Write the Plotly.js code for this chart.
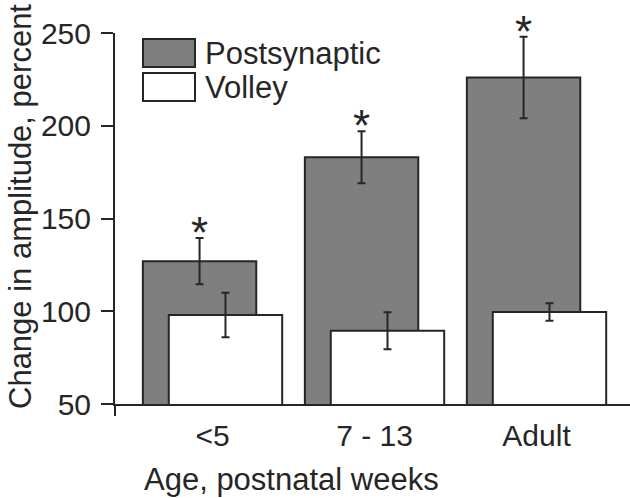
<!DOCTYPE html>
<html>
<head>
<meta charset="utf-8">
<script src="https://cdn.plot.ly/plotly-3.0.1.min.js"></script>
<style>
  html, body { margin: 0; padding: 0; background: #fff; }
  #chart { width: 630px; height: 498px; }
</style>
</head>
<body>
<div id="chart"></div>
<script>
// Age groups and the amplitude change (percent) for each recording type
const ageGroups = ['<5', '7 - 13', 'Adult'];
const seriesNames = ['Postsynaptic', 'Volley'];
const postsynaptic = [127, 183, 226];
const postsynapticErr = [12.5, 14, 22];
const volley = [98, 89.5, 99.6];
const volleyErr = [12, 10, 4.7];
const significant = [true, true, true];
const yTicks = [50, 100, 150, 200, 250];
const xTitle = 'Age, postnatal weeks';
const yTitle = 'Change in amplitude, percent';

const ink = '#262626';
const font = 'Liberation Sans, Arial, Helvetica, sans-serif';
const xIdx = ageGroups.map((_, i) => i);

// bar placement within each category (data units)
const barWidth = 0.70;
const postOffset = -0.43;
const volleyOffset = -0.27;

const errStyle = (arr) => ({
  type: 'data', array: arr, visible: true,
  color: ink, thickness: 2, width: 4
});

const traces = [
  {
    type: 'bar', name: seriesNames[0],
    x: xIdx, y: postsynaptic,
    width: barWidth, offset: postOffset,
    marker: { color: '#7f7f7f', line: { color: ink, width: 2 } },
    error_y: errStyle(postsynapticErr),
    showlegend: false, hoverinfo: 'skip'
  },
  {
    type: 'bar', name: seriesNames[1],
    x: xIdx, y: volley,
    width: barWidth, offset: volleyOffset,
    marker: { color: '#ffffff', line: { color: ink, width: 2 } },
    error_y: errStyle(volleyErr),
    showlegend: false, hoverinfo: 'skip'
  }
];

// significance stars above the postsynaptic error bars
const annotations = [];
xIdx.forEach(i => {
  if (!significant[i]) return;
  annotations.push({
    x: i + postOffset + barWidth / 2,
    y: postsynaptic[i] + postsynapticErr[i],
    xref: 'x', yref: 'y',
    text: '*', showarrow: false,
    xanchor: 'center', yanchor: 'bottom', yshift: -21,
    font: { family: font, size: 44, color: ink }
  });
});

// plot-area geometry in pixels, used to place paper-referenced items
const plotW = 515, plotH = 371, plotL = 115, plotT = 33;
const px = v => (v - plotL) / plotW;
const py = v => (plotT + plotH - v) / plotH;

// legend drawn as swatches with labels
const swatchFill = ['#7f7f7f', '#ffffff'];
const swatchTop = [39, 73];
const shapes = [];
seriesNames.forEach((name, k) => {
  shapes.push({
    type: 'rect', xref: 'paper', yref: 'paper',
    x0: px(143), x1: px(195), y0: py(swatchTop[k] + 28), y1: py(swatchTop[k]),
    fillcolor: swatchFill[k], line: { color: ink, width: 2 }
  });
  annotations.push({
    xref: 'paper', yref: 'paper',
    x: px(203), y: py(swatchTop[k] + 14),
    xanchor: 'left', yanchor: 'middle',
    text: name, showarrow: false,
    font: { family: font, size: 31, color: ink }
  });
});

// axis titles
annotations.push({
  xref: 'paper', yref: 'paper', x: px(291), y: py(479),
  xanchor: 'center', yanchor: 'middle', showarrow: false,
  text: xTitle, font: { family: font, size: 31, color: ink }
});
annotations.push({
  xref: 'paper', yref: 'paper', x: px(21), y: py(207),
  xanchor: 'center', yanchor: 'middle', showarrow: false, textangle: -90,
  text: yTitle, font: { family: font, size: 31, color: ink }
});

// y axis line continues a little below the x axis
shapes.push({
  type: 'line', xref: 'paper', yref: 'paper',
  x0: 0, x1: 0, y0: 0, y1: -12 / plotH,
  line: { color: ink, width: 2 }
});

const xRange = [-0.602, 2.577];

const layout = {
  width: 630, height: 498,
  margin: { l: plotL, r: 0, t: plotT, b: 94 },
  paper_bgcolor: '#fff', plot_bgcolor: '#fff',
  barmode: 'overlay',
  font: { family: font, size: 30, color: ink },
  showlegend: false,
  xaxis: {
    range: xRange, tickvals: xIdx, ticktext: ageGroups,
    ticks: '', showline: true, linewidth: 2, linecolor: ink,
    showgrid: false, zeroline: false, fixedrange: true,
    ticklabelstandoff: 4,
    tickfont: { family: font, size: 30, color: ink }
  },
  xaxis2: {
    overlaying: 'x', anchor: 'y', side: 'bottom', matches: 'x',
    range: xRange, tickvals: [0.5, 1.5],
    ticks: 'outside', ticklen: 12, tickwidth: 2, tickcolor: ink,
    showticklabels: false, showline: false, showgrid: false, zeroline: false
  },
  yaxis: {
    range: [50, 250], tickvals: yTicks,
    ticks: 'outside', ticklen: 12, tickwidth: 2, tickcolor: ink,
    showline: true, linewidth: 2, linecolor: ink,
    showgrid: false, zeroline: false, fixedrange: true,
    ticklabelstandoff: 4,
    tickfont: { family: font, size: 30, color: ink }
  },
  shapes: shapes,
  annotations: annotations
};

Plotly.newPlot('chart', traces, layout, { staticPlot: true, displayModeBar: false });
</script>
</body>
</html>
